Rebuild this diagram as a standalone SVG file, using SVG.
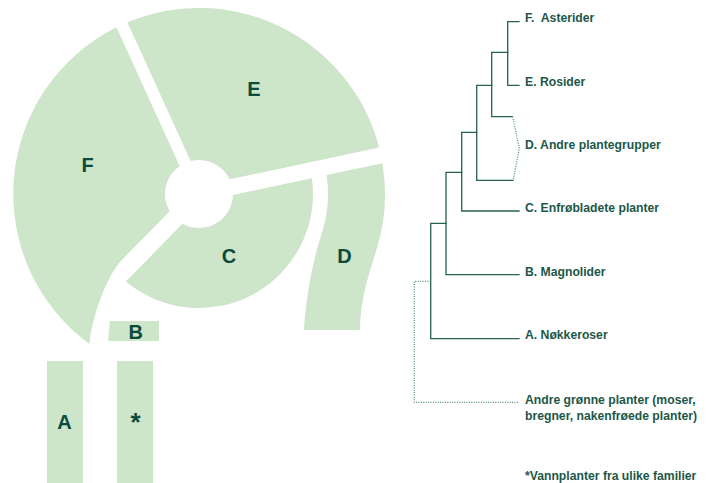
<svg xmlns="http://www.w3.org/2000/svg" width="710" height="483" viewBox="0 0 710 483">
  <style>
    .area { fill: #cde5c8; stroke: none; }
    .tag { font-family: "Liberation Sans", Arial, sans-serif; font-weight: bold; font-size: 20px; fill: #0c4a3b; text-anchor: middle; }
    .star { font-size: 26px; }
    .branch { fill: none; stroke: #27614f; stroke-width: 1.3; stroke-linecap: square; }
    .dotted { fill: none; stroke: #4a8676; stroke-width: 1.2; stroke-dasharray: 1 1.4; }
    .label { font-family: "Liberation Sans", Arial, sans-serif; font-weight: bold; font-size: 12.2px; fill: #1d5748; white-space: pre; }
  </style>

  <!-- Garden plan: sectors around a central round plaza -->
  <g id="bed-F">
    <path class="area" d="M179.66,166.03 L116.45,27.32 A186,186 0 0 0 89.5,344 C92,315 107.8,274.3 121.8,260 L169.63,211.13 A34,34 0 0 1 179.66,166.03 Z"/>
    <text class="tag" x="87.5" y="172">F</text>
  </g>
  <g id="bed-E">
    <path class="area" d="M190.58,161.05 L127.37,22.34 A186,186 0 0 1 379.1,147.55 L229.67,179.31 A34,34 0 0 0 190.58,161.05 Z"/>
    <text class="tag" x="254" y="95.5">E</text>
  </g>
  <g id="bed-C">
    <path class="area" d="M232.99,194.95 L311.89,178.18 A114,114 0 0 1 125.93,281.51 L182.49,223.73 A34,34 0 0 0 232.99,194.95 Z"/>
    <text class="tag" x="229" y="262.5">C</text>
  </g>
  <g id="bed-D">
    <path class="area" d="M326.59,175.05 L382.42,163.19 A186,186 0 0 1 376.4,250 C368.9,273.9 360,300 360,330 L304,330 C305,305 311.8,263.4 321.3,235 A129,129 0 0 0 326.59,175.05 Z"/>
    <text class="tag" x="344.5" y="262.5">D</text>
  </g>
  <g id="bed-B">
    <polygon class="area" points="110,321 159,321 159,341 108,341"/>
    <text class="tag" x="135.7" y="339">B</text>
  </g>
  <g id="bed-A">
    <rect class="area" x="47" y="361" width="36" height="122"/>
    <text class="tag" x="64.5" y="429">A</text>
  </g>
  <g id="bed-water">
    <rect class="area" x="117" y="361" width="36" height="122"/>
    <text class="tag star" x="135.5" y="430.5">*</text>
  </g>

  <!-- Phylogenetic tree -->
  <g id="connectors">
    <path class="branch" d="M519,21.7 H507.7 V85.3 H519"/>
    <path class="branch" d="M507.7,52.3 H491.7 V116.7 H512"/>
    <path class="dotted" d="M512.7,116.7 L519.3,148.3 L513.3,180.3"/>
    <path class="branch" d="M491.7,85.3 H476.7 V180.3 H513"/>
    <path class="branch" d="M476.7,132.3 H461.7 V211 H519"/>
    <path class="branch" d="M461.7,172.3 H446 V274.7 H519"/>
    <path class="branch" d="M446,223.3 H430.7 V338.7 H519"/>
    <path class="dotted" d="M430.7,281.3 H414.3 V402.3 H519"/>
  </g>

  <g id="leaf-F"><text class="label" x="525" y="22">F.  Asterider</text></g>
  <g id="leaf-E"><text class="label" x="525" y="85.7">E. Rosider</text></g>
  <g id="leaf-D"><text class="label" x="525" y="149">D. Andre plantegrupper</text></g>
  <g id="leaf-C"><text class="label" x="525" y="212">C. Enfrøbladete planter</text></g>
  <g id="leaf-B"><text class="label" x="525" y="275.7">B. Magnolider</text></g>
  <g id="leaf-A"><text class="label" x="525" y="339">A. Nøkkeroser</text></g>
  <g id="leaf-other">
    <text class="label" x="525" y="403.5">Andre grønne planter (moser,</text>
    <text class="label" x="525" y="419.5">bregner, nakenfrøede planter)</text>
  </g>
  <g id="note"><text class="label" x="525" y="479.5">*Vannplanter fra ulike familier</text></g>
</svg>
